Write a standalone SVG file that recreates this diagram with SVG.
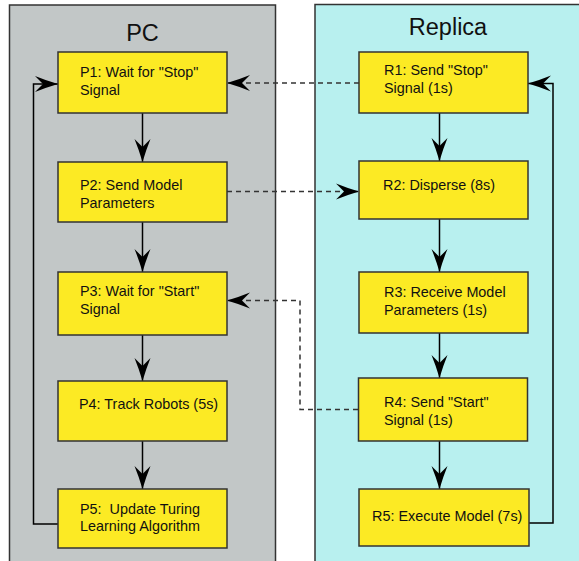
<svg xmlns="http://www.w3.org/2000/svg" width="579" height="561" viewBox="0 0 579 561">
<style>
.panel{stroke:#333;stroke-width:1.5}
.box{fill:#fcea24;stroke:#333;stroke-width:1.5}
.t{font-family:"Liberation Sans",Arial,sans-serif;font-size:14.4px;fill:#111;white-space:pre}
.title{font-family:"Liberation Sans",Arial,sans-serif;font-size:23.5px;fill:#111;text-anchor:middle}
.solid{fill:none;stroke:#000;stroke-width:1.5}
.dash{fill:none;stroke:#333;stroke-width:1.5;stroke-dasharray:5 4}
</style>
<defs>
<marker id="ah" markerUnits="userSpaceOnUse" orient="auto" refX="0" refY="0" markerWidth="30" markerHeight="20" viewBox="-26 -10 30 20" overflow="visible">
<path d="M0,0 Q-12,-3.5 -23,-8 L-15,0 L-23,8 Q-12,3.5 0,0 Z" fill="#000"/>
</marker>
</defs>
<g id="pc-panel">
<rect class="panel" x="9.5" y="5" width="266" height="570" fill="#c2c7c7"/>
<text class="title" x="142.5" y="41">PC</text>
</g>
<g id="replica-panel">
<rect class="panel" x="315" y="4.5" width="280" height="570" fill="#b8f0ef"/>
<text class="title" x="448" y="35">Replica</text>
</g>
<g id="connectors">
<path class="solid" d="M142.5,113 V162" marker-end="url(#ah)"/>
<path class="solid" d="M142.5,222 V272" marker-end="url(#ah)"/>
<path class="solid" d="M142.5,335 V381" marker-end="url(#ah)"/>
<path class="solid" d="M142.5,441 V489" marker-end="url(#ah)"/>
<path class="solid" d="M439.5,113 V161" marker-end="url(#ah)"/>
<path class="solid" d="M439.5,219 V272" marker-end="url(#ah)"/>
<path class="solid" d="M439.5,333 V378" marker-end="url(#ah)"/>
<path class="solid" d="M439.5,441 V489" marker-end="url(#ah)"/>
<path class="solid" d="M58,524 H33.5 V84 H58" marker-end="url(#ah)"/>
<path class="solid" d="M529,523 H553 V83.5 H528" marker-end="url(#ah)"/>
<path class="dash" d="M359,83 H227" marker-end="url(#ah)"/>
<path class="dash" d="M227,191.5 H359" marker-end="url(#ah)"/>
<path class="dash" d="M358,409.5 H300 V300.5 H227" marker-end="url(#ah)"/>
</g>
<g id="P1">
<rect class="box" x="58" y="52" width="169" height="61"/>
<text class="t" x="80" y="77">P1: Wait for "Stop"</text>
<text class="t" x="80" y="95">Signal</text>
</g>
<g id="P2">
<rect class="box" x="58" y="162" width="169" height="60"/>
<text class="t" x="80" y="189.5">P2: Send Model</text>
<text class="t" x="80" y="207.5">Parameters</text>
</g>
<g id="P3">
<rect class="box" x="58" y="272" width="169" height="63"/>
<text class="t" x="80" y="296">P3: Wait for "Start"</text>
<text class="t" x="80" y="313.5">Signal</text>
</g>
<g id="P4">
<rect class="box" x="58" y="381" width="169" height="60"/>
<text class="t" x="79" y="409">P4: Track Robots (5s)</text>
</g>
<g id="P5">
<rect class="box" x="58" y="489" width="169" height="59"/>
<text class="t" x="80" y="513.5">P5:  Update Turing</text>
<text class="t" x="80" y="531">Learning Algorithm</text>
</g>
<g id="R1">
<rect class="box" x="359" y="52" width="169" height="61"/>
<text class="t" x="384" y="74.5">R1: Send "Stop"</text>
<text class="t" x="384" y="93">Signal (1s)</text>
</g>
<g id="R2">
<rect class="box" x="359" y="161" width="169" height="58"/>
<text class="t" x="383" y="190">R2: Disperse (8s)</text>
</g>
<g id="R3">
<rect class="box" x="359" y="272" width="169" height="61"/>
<text class="t" x="384" y="296.5">R3: Receive Model</text>
<text class="t" x="384" y="314.5">Parameters (1s)</text>
</g>
<g id="R4">
<rect class="box" x="358.5" y="378" width="169" height="63"/>
<text class="t" x="384" y="406.5">R4: Send "Start"</text>
<text class="t" x="384" y="425">Signal (1s)</text>
</g>
<g id="R5">
<rect class="box" x="359" y="489" width="170" height="57"/>
<text class="t" x="372" y="520.5">R5: Execute Model (7s)</text>
</g>
</svg>
